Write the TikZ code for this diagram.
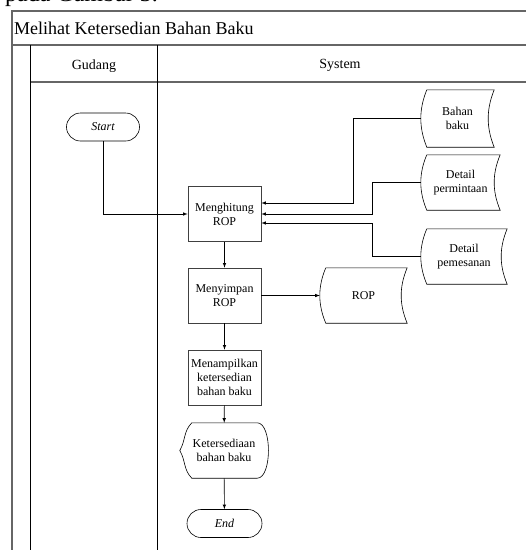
\documentclass[tikz,border=0pt]{standalone}
\usepackage{fontspec}
\setmainfont{Liberation Serif}
\usetikzlibrary{shapes.misc,arrows.meta}

\begin{document}
\begin{tikzpicture}[x=1pt,y=-1pt]

	\tikzstyle{lane_outer} = [draw=black!60, line width=1.3pt]
	\tikzstyle{lane_inner} = [draw=black, line width=0.9pt]
	\tikzstyle{terminal} = [rounded rectangle, draw=black, line width=0.6pt, minimum height=28pt, inner sep=0pt, font=\fontsize{12}{14}\selectfont\itshape]
	\tikzstyle{process} = [rectangle, draw=black!75, line width=0.7pt, minimum width=73pt, minimum height=55pt, inner sep=1pt, align=center, font=\fontsize{12}{14}\selectfont]
	\tikzstyle{data_store} = [rectangle, minimum height=55pt, inner sep=0pt, align=center, font=\fontsize{12}{14}\selectfont]
	\tikzstyle{outline} = [draw=black, line width=0.6pt]
	\tikzstyle{flow} = [-latex, line width=0.6pt]

	\useasboundingbox (0,0) rectangle (526,550);

%------------------------------------------------------------
	\node[anchor=base west, inner sep=0pt, font=\fontsize{24}{24}\selectfont] (caption) at (5,1) {pada Gambar 3.};

	\draw[lane_outer] (12,560) -- (12,11) -- (530,11);
	\draw[lane_outer] (12,45) -- (530,45);
	\draw[lane_outer] (30,82) -- (530,82);
	\draw[lane_inner] (30,45) -- (30,560);
	\draw[lane_inner] (157,45) -- (157,560);

	\node[anchor=base west, inner sep=0pt, font=\fontsize{18}{20}\selectfont] (title) at (14,34) {Melihat Ketersedian Bahan Baku};
	\node[anchor=base, inner sep=0pt, font=\fontsize{14}{16}\selectfont] (gudang) at (94,69) {Gudang};
	\node[anchor=base, inner sep=0pt, font=\fontsize{14}{16}\selectfont] (system) at (340,68) {System};
%------------------------------------------------------------
	\node[terminal, minimum width=73pt] (start) at (103,127) {Start};

	\node[process] (hitung) at (224.5,214) {Menghitung\\ROP};
	\node[process] (simpan) at (224.5,295.5) {Menyimpan\\ROP};
	\node[process] (tampil) at (224.5,377.5) {Menampilkan\\ketersedian\\bahan baku};

	\node[rectangle, minimum width=88pt, minimum height=55pt, inner sep=0pt, align=center, font=\fontsize{12}{14}\selectfont] (tersedia) at (224,450.5) {Ketersediaan\\bahan baku};

	\node[terminal, minimum width=75pt] (end) at (224.5,523.5) {End};
%------------------------------------------------------------
	\node[data_store, minimum width=73pt, minimum height=57pt] (bahan) at (457.5,118.5) {Bahan\\baku};
	\node[data_store, minimum width=79pt] (permintaan) at (460.5,182.5) {Detail\\permintaan};
	\node[data_store, minimum width=86pt] (pemesanan) at (464,256.5) {Detail\\pemesanan};
	\node[data_store, minimum width=87pt] (rop) at (363.5,295.5) {ROP};

	% stored data outline: curved left and right sides
	\foreach \n in {bahan,permintaan,pemesanan,rop}
		\draw[outline] ([xshift=6pt]\n.north west) -- (\n.north east)
			.. controls ([xshift=-8pt,yshift=9pt]\n.east) and ([xshift=-8pt,yshift=-9pt]\n.east) .. (\n.south east)
			-- ([xshift=6pt]\n.south west)
			.. controls ([xshift=-2pt,yshift=-9pt]\n.west) and ([xshift=-2pt,yshift=9pt]\n.west) .. cycle;

	% display outline
	\draw[outline] ([xshift=12pt]tersedia.north west) -- ([xshift=-11pt]tersedia.north east)
		.. controls ([xshift=4pt]tersedia.north east) and ([xshift=4pt]tersedia.south east) .. ([xshift=-11pt]tersedia.south east)
		-- ([xshift=12pt]tersedia.south west) to[out=135, in=-60] (tersedia.west) to[out=60, in=225] ([xshift=12pt]tersedia.north west);
%------------------------------------------------------------
	\draw[flow] (start) |- (hitung);

	\draw[flow] (bahan.west) -- ++(-68,0) |- ([yshift=11pt]hitung.east);
	\draw[flow] (permintaan.west) -- ++(-49,0) |- (hitung.east);
	\draw[flow] (pemesanan.west) -- ++(-49,0) |- ([yshift=-9pt]hitung.east);

	\draw[flow] (hitung) -- (simpan);
	\draw[flow] (simpan) -- (rop);
	\draw[flow] (simpan) -- (tampil);
	\draw[flow] (tampil) -- (tersedia);
	\draw[flow] (tersedia) -- (end);

\end{tikzpicture}
\end{document}
